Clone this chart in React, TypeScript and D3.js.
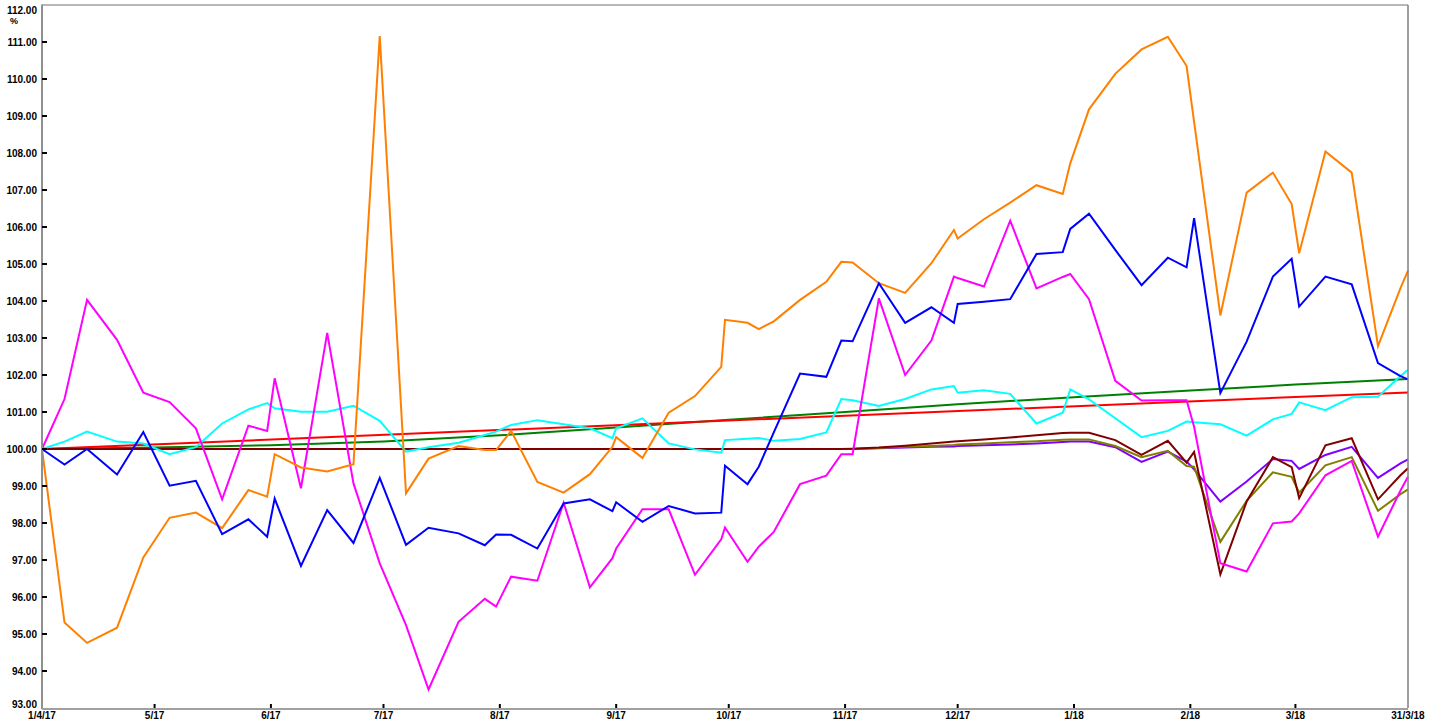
import React from 'react';
import * as d3 from 'd3';

// Shared observation dates for the weekly series
const dates: string[] = [
  '2017-04-01','2017-04-07','2017-04-13','2017-04-21','2017-04-28','2017-05-05','2017-05-12','2017-05-19',
  '2017-05-26','2017-05-31','2017-06-02','2017-06-09','2017-06-16','2017-06-23','2017-06-30','2017-07-07',
  '2017-07-13','2017-07-21','2017-07-28','2017-07-31','2017-08-04','2017-08-11','2017-08-18','2017-08-25',
  '2017-08-31','2017-09-01','2017-09-08','2017-09-15','2017-09-22','2017-09-29','2017-09-30','2017-10-06',
  '2017-10-09','2017-10-13','2017-10-20','2017-10-27','2017-10-31','2017-11-03','2017-11-10','2017-11-17',
  '2017-11-24','2017-11-30','2017-12-01','2017-12-08','2017-12-15','2017-12-22','2017-12-29','2017-12-31',
  '2018-01-05','2018-01-12','2018-01-19','2018-01-26','2018-01-31','2018-02-02','2018-02-09','2018-02-16',
  '2018-02-23','2018-02-28','2018-03-02','2018-03-09','2018-03-16','2018-03-23','2018-03-29','2018-03-31',
];

const blue: number[] = [
  100.00, 99.58, 100.00, 99.31, 100.46, 99.01, 99.14, 97.70,
  98.10, 97.63, 98.66, 96.84, 98.35, 97.46, 99.22, 97.41,
  97.87, 97.72, 97.40, 97.69, 97.68, 97.31, 98.53, 98.64,
  98.32, 98.56, 98.03, 98.46, 98.26, 98.28, 99.55, 99.05,
  99.52, 100.45, 102.04, 101.95, 102.93, 102.91, 104.48, 103.41,
  103.83, 103.41, 103.92, 103.98, 104.05, 105.27, 105.32, 105.95,
  106.36, 105.38, 104.43, 105.17, 104.91, 106.24, 101.51, 102.90,
  104.66, 105.14, 103.85, 104.66, 104.45, 102.32, 101.97, 101.88,
];

const orange: number[] = [
  100.00, 95.31, 94.76, 95.17, 97.07, 98.14, 98.28, 97.86,
  98.89, 98.71, 99.86, 99.50, 99.39, 99.59, 111.16, 98.80,
  99.74, 100.08, 99.97, 99.97, 100.49, 99.11, 98.82, 99.32,
  100.06, 100.32, 99.76, 100.98, 101.43, 102.22, 103.49, 103.41,
  103.24, 103.45, 104.03, 104.52, 105.06, 105.04, 104.48, 104.22,
  105.02, 105.92, 105.69, 106.21, 106.66, 107.13, 106.89, 107.72,
  109.18, 110.14, 110.80, 111.14, 110.35, 108.84, 103.61, 106.93,
  107.47, 106.62, 105.29, 108.04, 107.47, 102.78, 104.35, 104.82,
];

const magenta: number[] = [
  100.00, 101.35, 104.03, 102.95, 101.52, 101.27, 100.56, 98.64,
  100.63, 100.49, 101.91, 98.94, 103.14, 99.07, 96.91, 95.24,
  93.50, 95.33, 95.95, 95.74, 96.55, 96.44, 98.55, 96.26,
  97.05, 97.31, 98.37, 98.37, 96.60, 97.56, 97.88, 96.95,
  97.36, 97.76, 99.05, 99.28, 99.86, 99.86, 104.07, 102.00,
  102.93, 104.66, 104.62, 104.39, 106.17, 104.34, 104.65, 104.73,
  104.05, 101.84, 101.31, 101.32, 101.32, 100.60, 96.91, 96.69,
  97.99, 98.04, 98.26, 99.29, 99.68, 97.63, 98.88, 99.25,
];

const cyan: number[] = [
  100.00, 100.20, 100.47, 100.20, 100.15, 99.86, 100.05, 100.69,
  101.07, 101.24, 101.10, 101.01, 101.01, 101.17, 100.76, 99.93,
  100.05, 100.17, 100.38, 100.47, 100.65, 100.78, 100.67, 100.56,
  100.29, 100.56, 100.83, 100.15, 99.99, 99.90, 100.24, 100.28,
  100.30, 100.22, 100.27, 100.45, 101.35, 101.32, 101.16, 101.35,
  101.61, 101.70, 101.52, 101.59, 101.49, 100.69, 100.98, 101.61,
  101.34, 100.83, 100.32, 100.49, 100.74, 100.72, 100.67, 100.36,
  100.80, 100.95, 101.26, 101.05, 101.40, 101.41, 101.97, 102.14,
];

const flatStart: number[] = Array(37).fill(100);

const brown: number[] = [
  ...flatStart,
  100.01, 100.04, 100.09, 100.15, 100.20, 100.21, 100.26, 100.31, 100.37, 100.43, 100.44,
  100.44, 100.24, 99.84, 100.22, 99.63, 99.92, 96.61, 98.58,
  99.78, 99.51, 98.67, 100.10, 100.29, 98.64, 99.29, 99.48,
];

const olive: number[] = [
  ...flatStart,
  100.00, 100.03, 100.06, 100.08, 100.11, 100.12, 100.15, 100.18, 100.21, 100.25, 100.26,
  100.26, 100.08, 99.78, 99.95, 99.54, 99.52, 97.49, 98.60,
  99.37, 99.25, 98.82, 99.56, 99.78, 98.33, 98.78, 98.91,
];

const purple: number[] = [
  ...flatStart,
  100.00, 100.02, 100.04, 100.06, 100.07, 100.08, 100.10, 100.12, 100.15, 100.19, 100.20,
  100.20, 100.05, 99.65, 99.93, 99.66, 99.45, 98.58, 99.12,
  99.73, 99.68, 99.46, 99.84, 100.06, 99.22, 99.61, 99.72,
];

// Benchmark lines
const greenDates: string[] = [
  '2017-04-01','2017-05-01','2017-06-01','2017-07-01','2017-08-01','2017-09-01','2017-10-01',
  '2017-11-01','2017-12-01','2018-01-01','2018-02-01','2018-03-01','2018-03-31',
];
const green: number[] = [100.00, 100.04, 100.10, 100.20, 100.37, 100.58, 100.79, 101.00, 101.21, 101.40, 101.58, 101.74, 101.89];

const redDates: string[] = ['2017-04-01', '2018-03-31'];
const red: number[] = [100.00, 101.53];

const yTicks: number[] = [93, 94, 95, 96, 97, 98, 99, 100, 101, 102, 103, 104, 105, 106, 107, 108, 109, 110, 111, 112];
const startLabel = '1/4/17';
const endLabel = '31/3/18';

const parse = d3.utcParse('%Y-%m-%d');

export default function App() {
  const W = 1440, H = 722;
  const X0 = 42, X1 = 1408, Y0 = 5, Y1 = 708;
  const x = d3.scaleUtc().domain([parse('2017-04-01')!, parse('2018-03-31')!]).range([X0, X1]);
  const y = d3.scaleLinear().domain([93, 112]).range([Y1, Y0]);

  const mk = (ds: string[], vs: number[]) =>
    d3.line<number>().x((_, i) => x(parse(ds[i])!)).y((d) => y(d))(vs) || '';

  const series = [
    { d: mk(greenDates, green), c: '#008000' },
    { d: mk(redDates, red), c: '#ff0000' },
    { d: mk(dates, purple), c: '#8000ff' },
    { d: mk(dates, olive), c: '#808000' },
    { d: mk(dates, brown), c: '#800000' },
    { d: mk(dates, cyan), c: '#00ffff' },
    { d: mk(dates, magenta), c: '#ff00ff' },
    { d: mk(dates, orange), c: '#ff8000' },
    { d: mk(dates, blue), c: '#0000ff' },
  ];

  const months = d3.utcMonth.range(parse('2017-05-01')!, parse('2018-03-02')!);
  const font = '"Liberation Sans", Arial, sans-serif';

  return (
    <svg width={W} height={H} style={{ position: 'absolute', left: 0, top: 0, background: '#fff' }}>
      <rect x={0} y={0} width={W} height={H} fill="#fff" />
      {series.map((s, i) => (
        <path key={i} d={s.d} fill="none" stroke={s.c} strokeWidth={2} strokeLinejoin="miter" />
      ))}
      {/* frame */}
      <line x1={X0} y1={Y0} x2={X1} y2={Y0} stroke="#707070" strokeWidth={1} />
      <line x1={X1} y1={Y0} x2={X1} y2={Y1} stroke="#808080" strokeWidth={1.5} />
      <line x1={X0} y1={Y0 - 0.5} x2={X0} y2={Y1 + 1} stroke="#909090" strokeWidth={2} />
      <line x1={X0} y1={Y1 + 1} x2={X1} y2={Y1 + 1} stroke="#a0a0a0" strokeWidth={2} />
      {/* y ticks */}
      {yTicks.map((v) => {
        const ty = y(v);
        const showTick = v !== 93 && v !== 112;
        const ly = Math.min(Math.max(ty, 10), 704);
        return (
          <g key={v}>
            {showTick && <line x1={X0} x2={X0 + 5} y1={ty} y2={ty} stroke="#000" strokeWidth={2} />}
            <text x={37} y={ly + 3.6} textAnchor="end" fontFamily={font} fontWeight="bold" fontSize={10} fill="#000">
              {v.toFixed(2)}
            </text>
          </g>
        );
      })}
      <text x={14} y={24} textAnchor="middle" fontFamily={font} fontWeight="bold" fontSize={9} fill="#000">%</text>
      {/* x ticks */}
      {months.map((m) => {
        const tx = x(m);
        const label = `${m.getUTCMonth() + 1}/${String(m.getUTCFullYear()).slice(2)}`;
        return (
          <g key={label}>
            <line x1={tx} x2={tx} y1={Y1 - 4} y2={Y1} stroke="#000" strokeWidth={2} />
            <text x={tx} y={719} textAnchor="middle" fontFamily={font} fontWeight="bold" fontSize={10} fill="#000">
              {label}
            </text>
          </g>
        );
      })}
      <text x={X0} y={719} textAnchor="middle" fontFamily={font} fontWeight="bold" fontSize={10} fill="#000">{startLabel}</text>
      <text x={X1} y={719} textAnchor="middle" fontFamily={font} fontWeight="bold" fontSize={10} fill="#000">{endLabel}</text>
    </svg>
  );
}
